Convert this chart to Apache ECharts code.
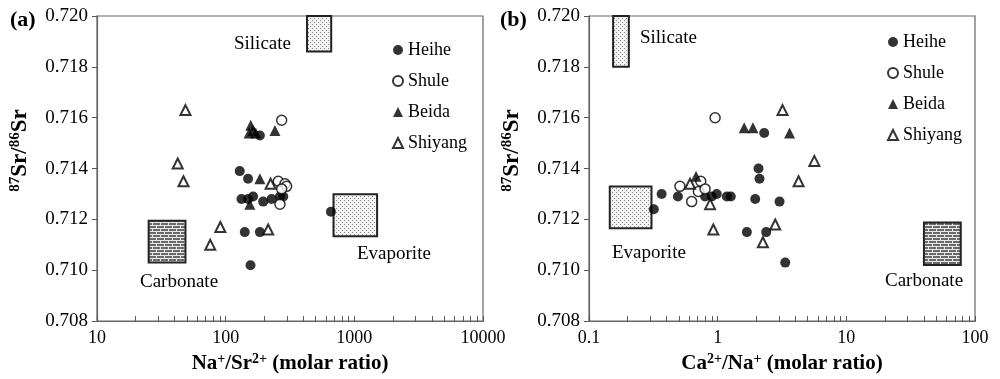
<!DOCTYPE html>
<html>
<head>
<meta charset="utf-8">
<title>Sr isotopes vs molar ratios</title>
<script src="https://cdn.jsdelivr.net/npm/echarts@6/dist/echarts.min.js"></script>
<style>
  html, body { margin: 0; padding: 0; background: #fff; }
  #main { width: 1000px; height: 379px; }
</style>
</head>
<body>
<div id="main"></div>
<script>
// 数据 (a): Na+/Sr2+ vs 87Sr/86Sr
var heiheA = [[128.6, 0.7139], [149.3, 0.7136], [140.7, 0.7115], [184.4, 0.7115], [156, 0.7102],
  [184.4, 0.7153], [132.7, 0.7128], [149.3, 0.7128], [163.4, 0.7129], [195.6, 0.7127],
  [227.5, 0.7128], [264.2, 0.7129], [280.5, 0.7129], [657.7, 0.7123]];
var shuleA = [[272.4, 0.7159], [256.4, 0.7135], [289, 0.7134], [297.8, 0.7133], [272.4, 0.7132], [264.2, 0.7126]];
var beidaA = [[156.7, 0.7157], [163.4, 0.7155], [152.1, 0.7154], [171.4, 0.7154], [241.5, 0.7155],
  [184.4, 0.7136], [154, 0.7126]];
var shiyangA = [[48.7, 0.7163], [42.4, 0.7142], [47.0, 0.7135], [90.9, 0.7117], [75.9, 0.7110],
  [213.9, 0.7116], [223.4, 0.7134]];

// 数据 (b): Ca2+/Na+ vs 87Sr/86Sr
var heiheB = [[0.319, 0.7124], [0.367, 0.7130], [0.491, 0.7129], [0.798, 0.7129], [0.900, 0.7129],
  [0.984, 0.7130], [1.178, 0.7129], [1.265, 0.7129], [1.958, 0.7128], [3.027, 0.7127],
  [2.077, 0.7140], [2.114, 0.7136], [2.300, 0.7154], [1.686, 0.7115], [2.384, 0.7115], [3.351, 0.7103]];
var shuleB = [[0.955, 0.7160], [0.509, 0.7133], [0.628, 0.7127], [0.739, 0.7135], [0.708, 0.7131], [0.798, 0.7132]];
var beidaB = [[1.607, 0.7156], [1.879, 0.7156], [3.620, 0.7154], [0.679, 0.7137]];
var shiyangB = [[3.193, 0.7163], [5.640, 0.7143], [4.256, 0.7135], [0.925, 0.7116], [2.801, 0.7118],
  [2.247, 0.7111], [0.873, 0.7126], [0.610, 0.7134]];

// 端元框 [x1, y1, x2, y2]
var silicateA = [429, 0.7186, 661, 0.7200];
var carbonateA = [25.2, 0.7103, 48.7, 0.71195];
var evaporiteA = [689, 0.71134, 1503, 0.71299];
var silicateB = [0.154, 0.7180, 0.204, 0.7200];
var evaporiteB = [0.145, 0.71165, 0.306, 0.71329];
var carbonateB = [40.1, 0.71021, 77.5, 0.71188];

var yTicks = [0.708, 0.710, 0.712, 0.714, 0.716, 0.718, 0.720];
var xLabelsA = [10, 100, 1000, 10000];
var xLabelsB = [0.1, 1, 10, 100];
var seriesNames = ['Heihe', 'Shule', 'Beida', 'Shiyang'];

var FONT = "'Liberation Serif', 'Times New Roman', serif";

// 花纹
function dotPattern() {
  var c = document.createElement('canvas');
  c.width = 4; c.height = 4;
  var g = c.getContext('2d');
  g.fillStyle = '#f2f2f2';
  g.fillRect(0, 0, 4, 4);
  g.fillStyle = '#8a8a8a';
  g.fillRect(0, 0, 1, 1);
  g.fillRect(2, 2, 1, 1);
  return { image: c, repeat: 'repeat' };
}
function brickPattern() {
  var c = document.createElement('canvas');
  c.width = 8; c.height = 6;
  var g = c.getContext('2d');
  g.fillStyle = '#6a6a6a';
  g.fillRect(0, 0, 8, 6);
  g.fillStyle = '#e8e8e8';
  g.fillRect(0, 0, 8, 1);
  g.fillRect(0, 3, 8, 1);
  g.fillRect(0, 0, 1, 3);
  g.fillRect(4, 3, 1, 3);
  return { image: c, repeat: 'repeat' };
}

function box(b) {
  return [{ coord: [b[0], b[3]] }, { coord: [b[2], b[1]] }];
}

function decadeTicks(lo, hi) {
  var out = [];
  for (var d = lo; d < hi; d *= 10) {
    for (var k = 1; k < 10; k++) out.push(+(d * k).toPrecision(6));
  }
  out.push(hi);
  return out;
}

var styles = {
  Heihe: { symbol: 'circle', size: 10, item: { color: '#000' } },
  Shule: { symbol: 'circle', size: 10, item: { color: '#fff', borderColor: '#000', borderWidth: 1.5 } },
  Beida: { symbol: 'triangle', size: 11, item: { color: '#000' } },
  Shiyang: { symbol: 'triangle', size: 10, item: { color: '#fff', borderColor: '#000', borderWidth: 2 } }
};

function makeSeries(name, data, idx) {
  var s = styles[name];
  return {
    name: name,
    type: 'scatter',
    xAxisIndex: idx,
    yAxisIndex: idx,
    data: data,
    symbol: s.symbol,
    symbolSize: s.size,
    itemStyle: s.item,
    z: 5
  };
}

function areaSeries(idx, boxes) {
  return {
    type: 'scatter',
    name: 'areas' + idx,
    xAxisIndex: idx,
    yAxisIndex: idx,
    data: [],
    silent: true,
    z: 2,
    markArea: {
      silent: true,
      label: { show: false },
      data: boxes.map(function (b) {
        var a = box(b.v);
        a[0].itemStyle = { color: b.fill, borderColor: '#222', borderWidth: 2 };
        return a;
      })
    }
  };
}

var supStyle = { fontSize: 14, fontWeight: 'bold', fontFamily: FONT, verticalAlign: 'top', lineHeight: 13, color: '#000' };
var mainStyle = { fontSize: 21, fontWeight: 'bold', fontFamily: FONT, lineHeight: 23, color: '#000' };
var ySupStyle = { fontSize: 15, fontWeight: 'bold', fontFamily: FONT, verticalAlign: 'top', lineHeight: 14, color: '#000' };
var yMainStyle = { fontSize: 23, fontWeight: 'bold', fontFamily: FONT, lineHeight: 25, color: '#000' };

function xAxis(idx, lo, hi, labels, nameRich) {
  return {
    type: 'log',
    logBase: 10,
    gridIndex: idx,
    min: lo,
    max: hi,
    name: nameRich,
    nameLocation: 'middle',
    nameGap: 29,
    nameTextStyle: { rich: { b: mainStyle, sup: supStyle } },
    axisLine: { lineStyle: { color: '#666', width: 1.2 } },
    axisTick: { inside: true, length: 5, customValues: decadeTicks(lo, hi), lineStyle: { color: '#555' } },
    axisLabel: {
      customValues: labels,
      margin: 8,
      fontSize: 18,
      fontFamily: FONT,
      color: '#000',
      formatter: function (v) { return String(v); }
    },
    splitLine: { show: false },
    minorTick: { show: false }
  };
}

function yAxis(idx) {
  return {
    type: 'value',
    gridIndex: idx,
    min: 0.708,
    max: 0.720,
    interval: 0.002,
    name: '{sup|87}{b|Sr/}{sup|86}{b|Sr}',
    nameLocation: 'middle',
    nameGap: 64,
    nameTextStyle: { padding: [0, 0, 0, 36], rich: { b: yMainStyle, sup: ySupStyle } },
    axisLine: { show: true, lineStyle: { color: '#666', width: 1.2 } },
    axisTick: { show: true, inside: false, length: 5, customValues: yTicks, lineStyle: { color: '#555' } },
    axisLabel: {
      margin: 9,
      fontSize: 19,
      fontFamily: FONT,
      color: '#000',
      formatter: function (v) { return v.toFixed(3); }
    },
    splitLine: { show: false }
  };
}

function legend(left, top) {
  return {
    data: seriesNames,
    orient: 'vertical',
    left: left,
    top: top,
    itemWidth: 10,
    itemHeight: 10,
    itemGap: 13,
    selectedMode: false,
    textStyle: { fontSize: 18, fontFamily: FONT, color: '#000', lineHeight: 18 }
  };
}

function label(text, x, y) {
  return {
    type: 'text',
    x: x,
    y: y,
    silent: true,
    style: { text: text, font: '19px ' + FONT, fill: '#000', align: 'left', verticalAlign: 'middle' }
  };
}
function panelTag(text, x, y) {
  return {
    type: 'text',
    x: x,
    y: y,
    silent: true,
    style: { text: text, font: 'bold 22px ' + FONT, fill: '#000', align: 'left', verticalAlign: 'middle' }
  };
}

var chart = echarts.init(document.getElementById('main'), null, { renderer: 'canvas' });
var dots = dotPattern();
var bricks = brickPattern();

var option = {
  backgroundColor: '#fff',
  animation: false,
  grid: [
    { left: 97, top: 16, width: 386, height: 306.5, show: true, borderColor: '#666', borderWidth: 1.2, backgroundColor: 'transparent' },
    { left: 589, top: 16, width: 386, height: 306.5, show: true, borderColor: '#666', borderWidth: 1.2, backgroundColor: 'transparent' }
  ],
  xAxis: [
    xAxis(0, 10, 10000, xLabelsA, '{b|Na}{sup|+}{b|/Sr}{sup|2+}{b| (molar ratio)}'),
    xAxis(1, 0.1, 100, xLabelsB, '{b|Ca}{sup|2+}{b|/Na}{sup|+}{b| (molar ratio)}')
  ],
  yAxis: [yAxis(0), yAxis(1)],
  legend: [legend(387, 36), legend(882, 28)],
  graphic: [
    panelTag('(a)', 10, 20),
    panelTag('(b)', 500, 20),
    label('Silicate', 234, 44),
    label('Carbonate', 140, 282),
    label('Evaporite', 357, 254),
    label('Silicate', 640, 38),
    label('Evaporite', 612, 253),
    label('Carbonate', 885, 281)
  ],
  series: [
    areaSeries(0, [{ v: silicateA, fill: dots }, { v: carbonateA, fill: bricks }, { v: evaporiteA, fill: dots }]),
    areaSeries(1, [{ v: silicateB, fill: dots }, { v: evaporiteB, fill: dots }, { v: carbonateB, fill: bricks }]),
    makeSeries('Heihe', heiheA, 0),
    makeSeries('Shule', shuleA, 0),
    makeSeries('Beida', beidaA, 0),
    makeSeries('Shiyang', shiyangA, 0),
    makeSeries('Heihe', heiheB, 1),
    makeSeries('Shule', shuleB, 1),
    makeSeries('Beida', beidaB, 1),
    makeSeries('Shiyang', shiyangB, 1)
  ]
};

chart.setOption(option);
</script>
</body>
</html>
